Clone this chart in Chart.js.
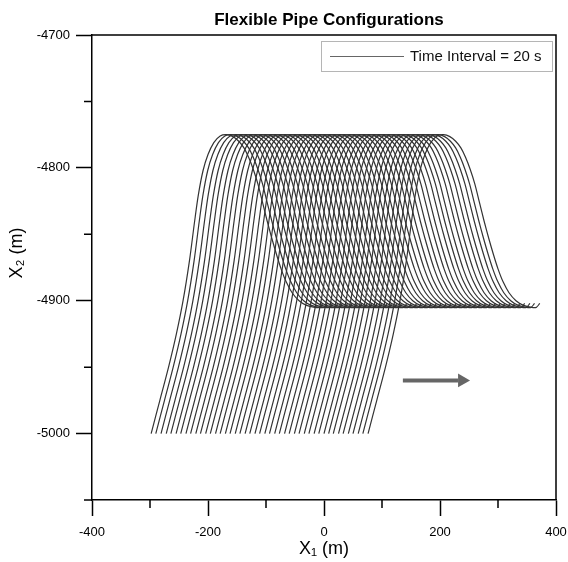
<!DOCTYPE html>
<html><head><meta charset="utf-8">
<script src="https://cdn.jsdelivr.net/npm/chart.js@4.4.1/dist/chart.umd.min.js"></script>
<style>html,body{margin:0;padding:0;background:#fff}</style>
</head><body>
<canvas id="c" width="568" height="562" style="width:568px;height:562px;display:block"></canvas>
<script>
// Pipe shape: horizontal distance from the pipe's lower end, and depth
const shapeDX = [0, 15, 30, 43.5, 55, 66, 75, 81.5, 89.5, 98, 108, 119, 130, 141, 151, 160, 168, 176, 184, 192, 200, 208, 216, 224, 233, 243, 255, 268, 282, 290, 296];
const shapeY  = [-5000, -4975, -4950, -4925, -4900, -4870, -4840, -4820, -4802, -4790, -4781, -4776, -4775, -4776.5, -4780, -4785, -4792, -4801, -4812, -4826, -4840, -4853, -4865, -4876, -4886, -4894, -4900, -4903.5, -4905, -4905, -4902];
// X1 of the lower end of each configuration (one every 20 s)
const bottomX = [-298, -290, -281, -272, -264, -255, -247, -238, -230, -221, -213, -204, -196, -187, -179, -170, -162, -153, -145, -136, -128, -119, -111, -102, -94, -85, -77, -68, -60, -51, -43, -34, -26, -17, -9, 0, 8, 16, 25, 33, 42, 50, 59, 67, 76];
const xMajorTicks = [-400, -200, 0, 200, 400];
const xMinorTicks = [-300, -100, 100, 300];
const yMajorTicks = [-5000, -4900, -4800, -4700];
const yMinorTicks = [-5050, -4950, -4850, -4750];
const arrowLineX = [136, 231];
const arrowHeadX = [238];
const arrowY = -4960;
const titleText = 'Flexible Pipe Configurations';
const xTitle = 'X₁ (m)';
const yTitle = 'X₂ (m)';
const legendLabel = 'Time Interval = 20 s';

const FONT = "'Liberation Sans', Arial, sans-serif";

const datasets = bottomX.map(bx => ({
  data: shapeDX.map((dx, i) => ({x: bx + dx, y: shapeY[i]})),
  showLine: true, borderColor: '#333', borderWidth: 1.2, pointRadius: 0, tension: 0.3, fill: false
}));
datasets.push({
  data: arrowLineX.map(x => ({x, y: arrowY})),
  showLine: true, borderColor: '#666', borderWidth: 4, pointRadius: 0, borderCapStyle: 'butt'
});
datasets.push({
  data: arrowHeadX.map(x => ({x, y: arrowY})),
  showLine: false, pointStyle: 'triangle', rotation: 90, pointRadius: 8,
  backgroundColor: '#666', borderColor: '#666', borderWidth: 0
});

const extras = {
  id: 'extras',
  afterDraw(chart) {
    const {ctx, chartArea: a, scales: {x, y}} = chart;
    ctx.save();
    ctx.strokeStyle = '#000'; ctx.lineWidth = 1.5;
    ctx.beginPath();
    ctx.moveTo(a.left, a.top); ctx.lineTo(a.right, a.top); ctx.lineTo(a.right, a.bottom);
    xMinorTicks.forEach(v => { const p = x.getPixelForValue(v); ctx.moveTo(p, a.bottom); ctx.lineTo(p, a.bottom + 8); });
    yMinorTicks.forEach(v => { const p = y.getPixelForValue(v); ctx.moveTo(a.left - 8, p); ctx.lineTo(a.left, p); });
    ctx.stroke();
    // title
    ctx.fillStyle = '#000'; ctx.textAlign = 'center'; ctx.textBaseline = 'middle';
    ctx.font = 'bold 17px ' + FONT;
    ctx.fillText(titleText, (a.left + a.right) / 2 + 5, 20);
    // y-axis title
    ctx.save();
    ctx.translate(17, 253); ctx.rotate(-Math.PI / 2);
    ctx.font = '18px ' + FONT;
    ctx.fillText(yTitle, 0, 0);
    ctx.restore();
    // legend
    const bw = 231, bh = 30, bx = a.right - 4 - bw, by = a.top + 6;
    ctx.strokeStyle = '#b5b5b5'; ctx.lineWidth = 1;
    ctx.strokeRect(Math.round(bx) + 0.5, Math.round(by) + 0.5, bw, bh);
    ctx.strokeStyle = '#666'; ctx.lineWidth = 1;
    ctx.beginPath(); ctx.moveTo(bx + 9, by + 15.5); ctx.lineTo(bx + 83, by + 15.5); ctx.stroke();
    ctx.fillStyle = '#111'; ctx.font = '15px ' + FONT; ctx.textBaseline = 'middle'; ctx.textAlign = 'left';
    ctx.fillText(legendLabel, bx + 89, by + 16);
    ctx.restore();
  }
};

const fmt = v => String(v);

new Chart(document.getElementById('c'), {
  type: 'scatter',
  data: {datasets},
  options: {
    responsive: false, animation: false,
    layout: {padding: {left: 0, right: 12, top: 35, bottom: 0}},
    plugins: {
      legend: {display: false}, tooltip: {enabled: false}, title: {display: false}
    },
    scales: {
      x: {
        type: 'linear', min: -400, max: 400,
        afterBuildTicks: s => { s.ticks = xMajorTicks.map(v => ({value: v})); },
        afterFit: s => { s.height = 62; s.paddingLeft = 0; s.paddingRight = 0; },
        ticks: {color: '#000', font: {family: FONT, size: 13}, padding: 9, maxRotation: 0, callback: fmt},
        grid: {drawOnChartArea: false, tickLength: 16, tickColor: '#000', tickWidth: 1.5},
        border: {display: true, color: '#000', width: 1.5},
        title: {display: true, text: xTitle, color: '#000', font: {family: FONT, size: 18, lineHeight: 1.2}, padding: {top: 0, bottom: 2}}
      },
      y: {
        type: 'linear', min: -5050, max: -4700,
        afterBuildTicks: s => { s.ticks = yMajorTicks.map(v => ({value: v})); },
        afterFit: s => { s.width = 92; s.paddingTop = 0; s.paddingBottom = 0; },
        ticks: {color: '#000', font: {family: FONT, size: 13}, padding: 6, callback: fmt},
        grid: {drawOnChartArea: false, tickLength: 16, tickColor: '#000', tickWidth: 1.5},
        border: {display: true, color: '#000', width: 1.5},
        title: {display: false}
      }
    }
  },
  plugins: [extras]
});
</script>
</body></html>
